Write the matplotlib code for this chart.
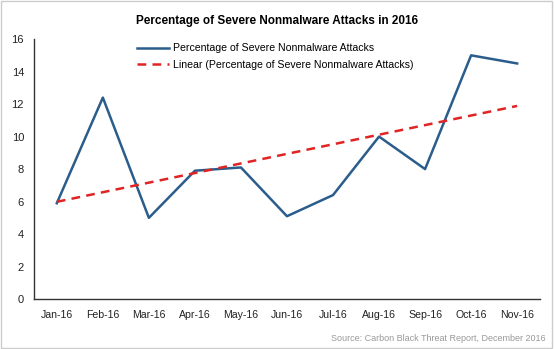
import numpy as np
import matplotlib.pyplot as plt

plt.rcParams['font.family'] = ['Liberation Sans', 'DejaVu Sans']

months = ['Jan-16', 'Feb-16', 'Mar-16', 'Apr-16', 'May-16', 'Jun-16',
          'Jul-16', 'Aug-16', 'Sep-16', 'Oct-16', 'Nov-16']
pct = [5.9, 12.4, 5.0, 7.9, 8.1, 5.1, 6.4, 10.0, 8.0, 15.0, 14.5]

x = np.arange(len(months))
# linear trend line, like the Excel one
slope, icpt = np.polyfit(x, pct, 1)
trend = slope * x + icpt

fig = plt.figure(figsize=(5.54, 3.49), dpi=100)
ax = fig.add_axes([0.061, 0.143, 0.914, 0.745])

ax.plot(x, pct, color='#2b5d8c', lw=1.8,
        label='Percentage of Severe Nonmalware Attacks')
ax.plot(x, trend, color='#e02424', lw=1.8, ls=(0, (3.5, 2.5)),
        label='Linear (Percentage of Severe Nonmalware Attacks)')

ax.set_xlim(-0.5, 10.5)
ax.set_ylim(0, 16)
ax.set_yticks(range(0, 17, 2))
ax.set_xticks(x)
ax.set_xticklabels(months)
ax.tick_params(length=0, labelsize=7.6, colors='#222222', pad=8)
ax.tick_params(axis='y', labelsize=8, pad=7)
for s in ['top', 'right']:
    ax.spines[s].set_visible(False)
for s in ['left', 'bottom']:
    ax.spines[s].set_color('#333333')
    ax.spines[s].set_linewidth(1.0)

ax.legend(loc='upper left', bbox_to_anchor=(0.185, 1.02), frameon=False,
          fontsize=7.6, handlelength=3.0, labelspacing=0.6, handletextpad=0.4)

fig.text(0.5, 0.94, 'Percentage of Severe Nonmalware Attacks in 2016',
         ha='center', va='center', fontsize=8.5, fontweight='bold')
fig.text(0.985, 0.03, 'Source: Carbon Black Threat Report, December 2016',
         ha='right', va='center', fontsize=6.5, color='#999999')

# light frame around the picture
fig.patches.append(plt.Rectangle((0.002, 0.003), 0.995, 0.994, transform=fig.transFigure,
                                 fill=False, edgecolor='#cccccc', lw=1))

fig.savefig('out.png', dpi=100)
